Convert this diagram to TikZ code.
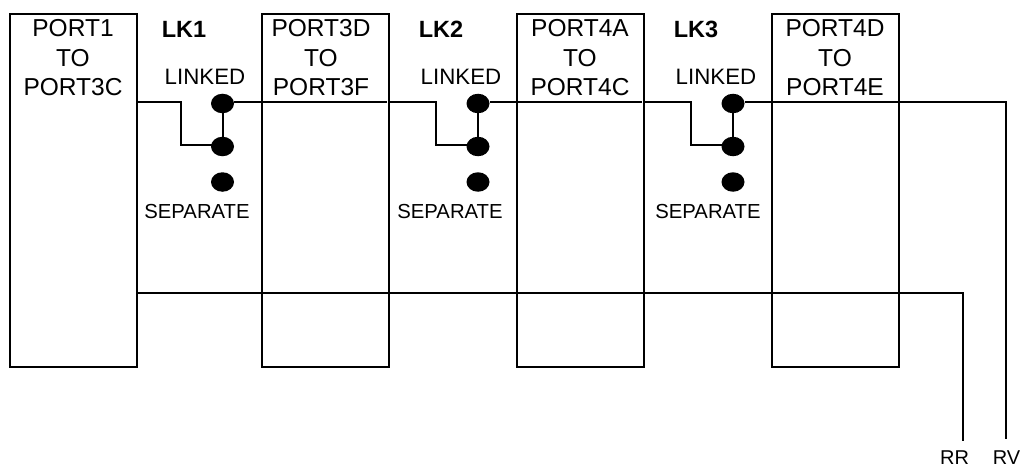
\documentclass[tikz,border=0pt]{standalone}
\usepackage{fontspec}
\setmainfont{Liberation Sans}
\usetikzlibrary{shapes.geometric}
\tikzset{
  portbox/.style={draw=black,line width=2pt,minimum width=127pt,minimum height=353pt,inner sep=0pt,outer sep=0pt,anchor=north west},
  boxtext/.style={font=\fontsize{24.5}{29.5}\selectfont,align=center,anchor=north,inner sep=0pt},
  lkname/.style={font=\fontsize{23.5}{26}\selectfont\bfseries,inner sep=0pt},
  linktext/.style={font=\fontsize{22.3}{24}\selectfont,inner sep=0pt},
  septext/.style={font=\fontsize{20.3}{24}\selectfont,inner sep=0pt},
  outtext/.style={font=\fontsize{20}{24}\selectfont,inner sep=0pt},
  pin/.style={ellipse,fill=black,minimum width=23pt,minimum height=19.5pt,inner sep=0pt},
  wire/.style={line width=2pt,line join=miter},
}
\begin{document}
\begin{tikzpicture}[x=1pt,y=-1pt]
\useasboundingbox (0,0) rectangle (1022,468);
\fill[white] (0,0) rectangle (1022,468);
% boxes
\node[portbox] (b1) at (10,14) {};
\node[portbox] (b2) at (262,14) {};
\node[portbox] (b3) at (517,14) {};
\node[portbox] (b4) at (772,14) {};
% box texts
\node[boxtext] (t1) at (73,19.5) {PORT1\\TO\\PORT3C};
\node[boxtext] (t2) at (321,19.5) {PORT3D\\TO\\PORT3F};
\node[boxtext] (t3) at (580,19.5) {PORT4A\\TO\\PORT4C};
\node[boxtext] (t4) at (835,19.5) {PORT4D\\TO\\PORT4E};
% link labels
\node[lkname] (k1) at (184,29.5) {LK1};
\node[lkname] (k2) at (441,29.5) {LK2};
\node[lkname] (k3) at (696,29.5) {LK3};
\node[linktext] (l1) at (205,77) {LINKED};
\node[linktext] (l2) at (461,77) {LINKED};
\node[linktext] (l3) at (716,77) {LINKED};
\node[septext] (s1) at (197,212) {SEPARATE};
\node[septext] (s2) at (450,212) {SEPARATE};
\node[septext] (s3) at (708,212) {SEPARATE};
% pins
\foreach \n/\x in {1/222.5,2/478,3/733}{
  \node[pin] (pa\n) at (\x,103.5) {};
  \node[pin] (pb\n) at (\x,146.5) {};
  \node[pin] (pc\n) at (\x,182) {};
  \draw[wire] (pa\n) -- (pb\n);
}
% junction coordinates
\coordinate (w1) at (b1.east |- 0,102);
\coordinate (w2) at (b2.east |- 0,102);
\coordinate (w3) at (b3.east |- 0,102);
\coordinate (j1) at (181,102);
\coordinate (j2) at (436,102);
\coordinate (j3) at (691,102);
\coordinate (h1) at (216,145);
\coordinate (h2) at (472,145);
\coordinate (h3) at (727,145);
\coordinate (x1) at (387,102);
\coordinate (x2) at (642,102);
\coordinate (e1) at (1006,102);
\coordinate (e2) at (1006,439);
\coordinate (r0) at (b1.east |- 0,293);
\coordinate (r1) at (963,293);
\coordinate (r2) at (963,441);
% wiring
\draw[wire] (w1) -- (j1) |- (h1);
\draw[wire] (pa1.east |- 0,102) -- (x1);
\draw[wire] (w2) -- (j2) |- (h2);
\draw[wire] (pa2.east |- 0,102) -- (x2);
\draw[wire] (w3) -- (j3) |- (h3);
\draw[wire] (pa3.east |- 0,102) -- (e1) -- (e2);
\draw[wire] (r0) -- (r1) -- (r2);
% output labels
\node[outtext] (rr) at (954.5,457.5) {RR};
\node[outtext] (rv) at (1006.5,457.5) {RV};
\end{tikzpicture}
\end{document}
